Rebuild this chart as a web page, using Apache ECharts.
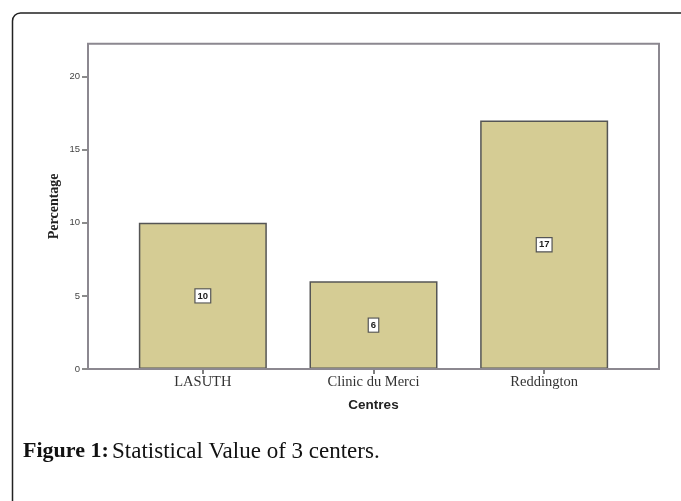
<!DOCTYPE html>
<html>
<head>
<meta charset="utf-8">
<script src="https://cdn.jsdelivr.net/npm/echarts@6/dist/echarts.min.js"></script>
<style>html,body{margin:0;padding:0;background:#fff;}#c{width:681px;height:501px;}</style>
</head>
<body>
<div id="c"></div>
<script>
var categories = ['LASUTH', 'Clinic du Merci', 'Reddington'];
var values = [10, 6, 17];
var yTicks = [0, 5, 10, 15, 20];

var chart = echarts.init(document.getElementById('c'), null, {renderer: 'canvas'});
var option = {
  animation: false,
  backgroundColor: '#ffffff',
  grid: [
    {left: 117.5, right: 51.5, top: 43.7, bottom: 132},
    {left: 88, right: 22, top: 43.7, bottom: 132, show: true, borderColor: '#8c8890', borderWidth: 2, backgroundColor: 'transparent', z: 5}
  ],
  xAxis: [
    {
      type: 'category', gridIndex: 0, data: categories,
      axisLine: {show: false},
      axisTick: {show: true, alignWithLabel: true, length: 5, lineStyle: {color: '#555', width: 1.5}},
      axisLabel: {color: '#333', fontFamily: 'Liberation Serif', fontSize: 14.5, margin: 6},
      name: 'Centres', nameLocation: 'middle', nameGap: 29,
      nameTextStyle: {fontFamily: 'Liberation Sans', fontWeight: 'bold', fontSize: 13.5, color: '#222'}
    },
    {type: 'value', gridIndex: 1, show: false}
  ],
  yAxis: [
    {
      type: 'value', gridIndex: 0, min: 0, max: 22.25, interval: 5, offset: 29.5,
      axisLine: {show: false},
      axisTick: {show: true, length: 6, customValues: yTicks, lineStyle: {color: '#666', width: 1.5}},
      axisLabel: {color: '#444', fontFamily: 'Liberation Sans', fontSize: 9.5, margin: 8, customValues: yTicks},
      splitLine: {show: false},
      name: 'Percentage', nameLocation: 'middle', nameGap: 27, nameRotate: 90, nameMoveOverlap: false,
      nameTextStyle: {fontFamily: 'Liberation Serif', fontWeight: 'bold', fontSize: 14, color: '#222'}
    },
    {type: 'value', gridIndex: 1, show: false}
  ],
  series: [{
    type: 'bar', xAxisIndex: 0, yAxisIndex: 0,
    data: values, barWidth: 128,
    itemStyle: {color: '#d5cc94', borderColor: '#555', borderWidth: 1.5},
    label: {
      show: true, position: 'inside', color: '#222', fontFamily: 'Liberation Sans', fontSize: 9.5, fontWeight: 'bold',
      backgroundColor: '#ffffff', borderColor: '#555', borderWidth: 1.2, padding: [2, 2, 1, 2]
    }
  }],
  graphic: [
    {type: 'rect', shape: {x: 12.5, y: 13, width: 720, height: 600, r: 8}, style: {fill: 'none', stroke: '#222', lineWidth: 1.5}, silent: true},
    {type: 'text', left: 23, top: 440, style: {
      text: '{b|Figure 1:} {n|Statistical Value of 3 centers.}',
      rich: {
        b: {fontFamily: 'Liberation Serif', fontWeight: 'bold', fontSize: 22, fill: '#111'},
        n: {fontFamily: 'Liberation Serif', fontSize: 23, fill: '#111'}
      }
    }}
  ]
};
chart.setOption(option);
</script>
</body>
</html>
